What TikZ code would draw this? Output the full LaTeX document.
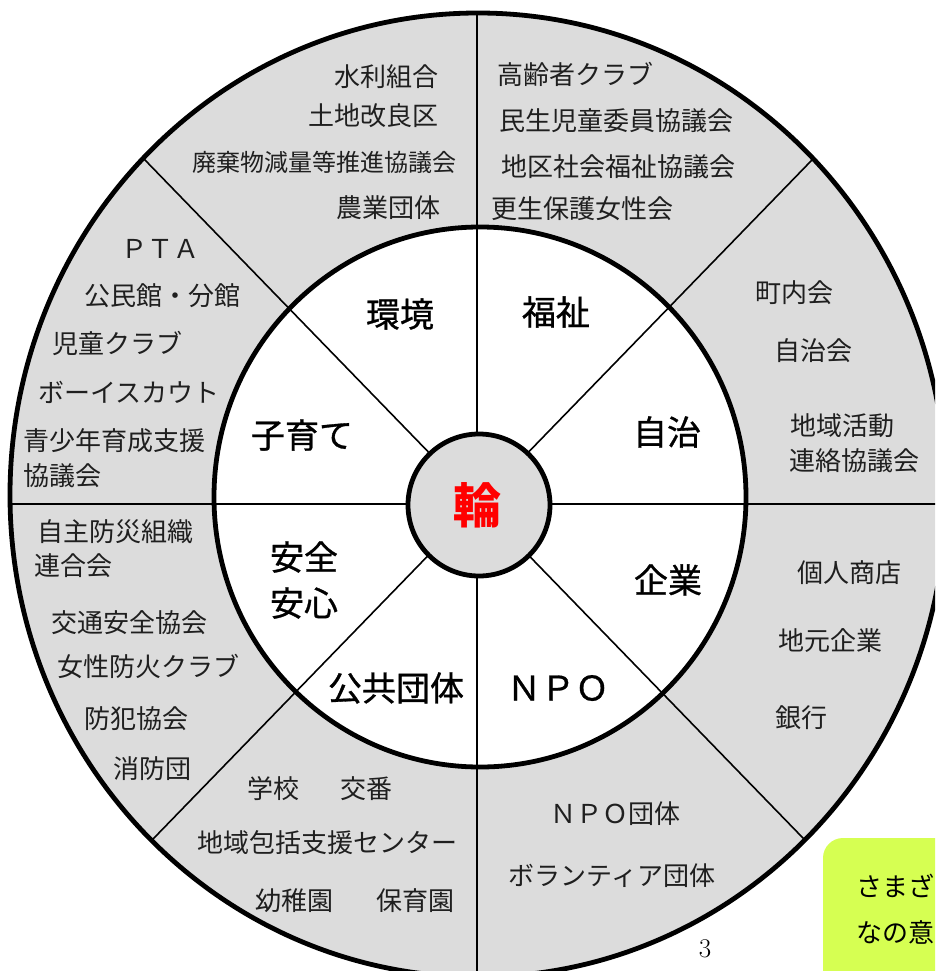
\documentclass[tikz,border=0pt]{standalone}
\usepackage{fontspec}
\newfontfamily\jp{Noto Sans CJK JP}
\newfontfamily\jpm[FakeBold=0.9]{Noto Sans CJK JP}
\definecolor{ringgray}{RGB}{220,220,220}
\definecolor{boxgreen}{RGB}{214,255,82}
\definecolor{wared}{RGB}{255,0,0}
\tikzset{
  outertext/.style={font=\jp\fontsize{26}{30}\selectfont, inner sep=0pt, text=black!88},
  smallouter/.style={font=\jp\fontsize{24}{28}\selectfont, inner sep=0pt, text=black!88},
  innertext/.style={font=\jpm\fontsize{34}{40}\selectfont, inner sep=0pt, text=black},
  boxtext/.style={font=\jp\fontsize{26}{30}\selectfont, inner sep=0pt, anchor=west, text=black},
  divline/.style={line width=1.6pt, draw=black},
  ringline/.style={line width=4.8pt, draw=black}
}
\begin{document}
\begin{tikzpicture}[x=1pt,y=-1pt]
\useasboundingbox (0,0) rectangle (935,971);
\begin{scope}
\clip (0,0) rectangle (935,971);
% green note box
\fill[boxgreen, rounded corners=20pt] (823,838) rectangle (990,1020);
% rings
\fill[ringgray] (478,495) ellipse [x radius=468pt, y radius=482pt];
\fill[white] (480,497) ellipse [x radius=266pt, y radius=270pt];
% divider lines
\coordinate (top) at (477,0);
\coordinate (bot) at (477,1000);
\coordinate (lft) at (0,504);
\coordinate (rgt) at (960,504);
\coordinate (ul) at (128,142.5);
\coordinate (lr) at (818,853.5);
\coordinate (ur) at (827,144.5);
\coordinate (ll) at (138,854.5);
\begin{scope}
\clip (478,495) ellipse [x radius=468pt, y radius=482pt];
\draw[divline, line width=1.9pt] (top) -- (bot);
\draw[divline, line width=2.3pt] (lft) -- (rgt);
\draw[divline] (ul) -- (lr);
\draw[divline] (ur) -- (ll);
\end{scope}
\draw[ringline] (478,495) ellipse [x radius=468pt, y radius=482pt];
\draw[ringline] (480,497) ellipse [x radius=266pt, y radius=270pt];
\filldraw[fill=ringgray, ringline] (479,505) circle [radius=71pt];
% centre
\node[font=\jp\bfseries\fontsize{48}{52}\selectfont, text=wared, inner sep=0pt] (wa) at (477,505) {輪};
% inner labels
\node[innertext] (kankyo) at (400,314) {環境};
\node[innertext] (fukushi) at (556,312) {福祉};
\node[innertext] (kosodate) at (302,435) {子育て};
\node[innertext] (jichi) at (667,432) {自治};
\node[innertext] (anzen) at (304,557) {安全};
\node[innertext] (anshin) at (304,603) {安心};
\node[innertext] (kigyo) at (668,580) {企業};
\node[innertext] (kokyo) at (396,688) {公共団体};
\node[innertext] (npo) at (558,688) {ＮＰＯ};
% environment ring
\node[outertext] (t1) at (386,77) {水利組合};
\node[outertext] (t2) at (373,116) {土地改良区};
\node[smallouter] (t3) at (324,162) {廃棄物減量等推進協議会};
\node[outertext] (t4) at (388,208) {農業団体};
% welfare ring
\node[outertext, anchor=west] (w1) at (497,74) {高齢者クラブ};
\node[outertext, anchor=west] (w2) at (499,121) {民生児童委員協議会};
\node[outertext, anchor=west] (w3) at (501,167) {地区社会福祉協議会};
\node[outertext, anchor=west] (w4) at (491,209) {更生保護女性会};
% self-government ring
\node[outertext] (j1) at (794,293) {町内会};
\node[outertext] (j2) at (813,351) {自治会};
\node[outertext, anchor=west] (j3) at (790,426) {地域活動};
\node[outertext, anchor=west] (j4) at (789,461) {連絡協議会};
% enterprise ring
\node[outertext] (k1) at (849,573) {個人商店};
\node[outertext] (k2) at (830,641) {地元企業};
\node[outertext] (k3) at (801,718) {銀行};
% NPO ring
\node[outertext] (n1) at (615,814) {ＮＰＯ団体};
\node[outertext] (n2) at (612,876) {ボランティア団体};
% public bodies ring
\node[outertext] (p1) at (273,789) {学校};
\node[outertext] (p2) at (366,789) {交番};
\node[outertext] (p3) at (327,843) {地域包括支援センター};
\node[outertext] (p4) at (294,901) {幼稚園};
\node[outertext] (p5) at (415,901) {保育園};
% safety ring
\node[outertext, anchor=west] (a1) at (37,532) {自主防災組織};
\node[outertext, anchor=west] (a2) at (34,566) {連合会};
\node[outertext] (a3) at (129,623) {交通安全協会};
\node[outertext] (a4) at (148,666) {女性防火クラブ};
\node[outertext] (a5) at (136,719) {防犯協会};
\node[outertext] (a6) at (152,769) {消防団};
% child-rearing ring
\node[outertext] (c1) at (160,249) {ＰＴＡ};
\node[outertext] (c2) at (162,296) {公民館・分館};
\node[outertext] (c3) at (117,343) {児童クラブ};
\node[outertext] (c4) at (129,392) {ボーイスカウト};
\node[outertext, anchor=west] (c5) at (23,441) {青少年育成支援};
\node[outertext, anchor=west] (c6) at (23,476) {協議会};
% page number and note
\node[inner sep=0pt, font=\fontsize{27}{30}\selectfont] (pg) at (705,949) {3};
\node[boxtext] (b1) at (856,886) {さまざ};
\node[boxtext] (b2) at (856,932) {なの意};
\end{scope}
\end{tikzpicture}
\end{document}
